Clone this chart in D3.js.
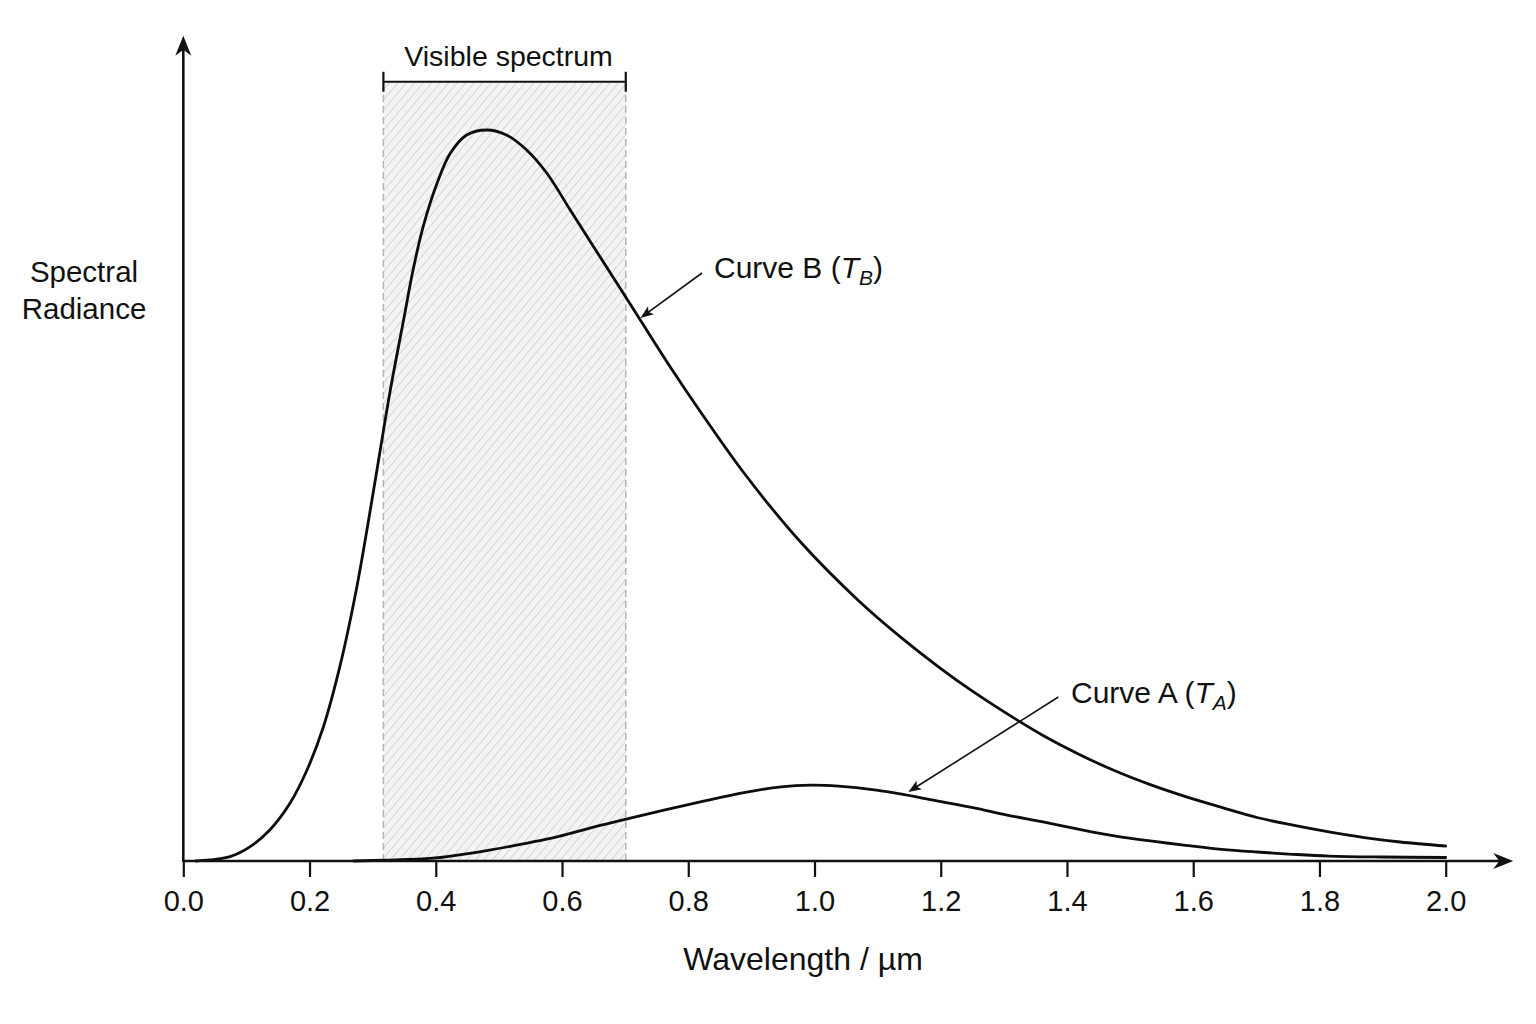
<!DOCTYPE html>
<html><head><meta charset="utf-8">
<script src="https://cdn.jsdelivr.net/npm/d3@7"></script>
<style>html,body{margin:0;padding:0;background:#fff}svg{display:block}</style>
</head><body><svg id="chart" width="1536" height="1024"></svg>
<script>
// ---- data ----
const wavelengthTicks = [0.0, 0.2, 0.4, 0.6, 0.8, 1.0, 1.2, 1.4, 1.6, 1.8, 2.0];

const curveBLambda = [0.02, 0.042, 0.074, 0.106, 0.137, 0.169, 0.196, 0.222, 0.248, 0.275, 0.301, 0.312, 0.328, 0.349, 0.364, 0.380, 0.402, 0.423, 0.449, 0.481, 0.512, 0.544, 0.576, 0.613, 0.650, 0.687, 0.724, 0.771, 0.819, 0.888, 0.979, 1.069, 1.136, 1.199, 1.249, 1.322, 1.362, 1.418, 1.475, 1.532, 1.588, 1.645, 1.701, 1.758, 1.815, 1.871, 1.928, 2.0];
const curveBValue  = [0, 0.14, 0.59, 1.96, 4.24, 7.89, 12.45, 18.37, 26.58, 37.52, 50.48, 56.22, 64.43, 74.01, 80.85, 86.77, 92.71, 96.81, 99.32, 100, 99.32, 97.26, 94.08, 89.06, 84.04, 79.03, 74.01, 67.66, 61.50, 53.11, 43.53, 35.68, 30.66, 26.39, 23.30, 19.23, 17.18, 14.65, 12.37, 10.44, 8.80, 7.33, 5.95, 4.90, 3.98, 3.20, 2.60, 2.05];

const curveALambda = [0.27, 0.317, 0.395, 0.462, 0.522, 0.595, 0.644, 0.700, 0.765, 0.826, 0.886, 0.947, 0.995, 1.038, 1.098, 1.136, 1.192, 1.249, 1.305, 1.362, 1.418, 1.475, 1.532, 1.588, 1.645, 1.701, 1.758, 1.815, 1.899, 2.0];
const curveAValue  = [0, 0.11, 0.38, 1.16, 2.08, 3.38, 4.51, 5.68, 7.02, 8.21, 9.32, 10.15, 10.37, 10.23, 9.69, 9.17, 8.25, 7.33, 6.29, 5.34, 4.35, 3.43, 2.74, 2.15, 1.60, 1.23, 0.92, 0.68, 0.55, 0.48];

const visibleBand = [0.317, 0.701];
const visibleLabel = "Visible spectrum";

const annotationNames = ["Curve B (", "Curve A ("];
const annotationSubs  = ["B", "A"];
const annotationTip   = [[0.7243, 74.28], [1.1486, 9.44]];
const annotationTail  = [[0.8218, 80.44], [1.3863, 22.43]];
const annotationText  = [[0.8408, 79.75], [1.4064, 21.55]];

const xTitle = "Wavelength / µm";
const yTitleLines = ["Spectral", "Radiance"];

// ---- layout ----
const FONT = "'Liberation Sans', Arial, Helvetica, sans-serif";
const svg = d3.select("#chart");
const x = d3.scaleLinear().domain([0, 2]).range([183.3, 1445.7]);
const y = d3.scaleLinear().domain([0, 100]).range([861, 130]);
const xAxisEnd = 2.107, yAxisTop = 112.9, bracketV = 106.6;

// hatch pattern
const defs = svg.append("defs");
const pat = defs.append("pattern").attr("id", "hatch")
  .attr("patternUnits", "userSpaceOnUse").attr("width", 6.5).attr("height", 6.5)
  .attr("patternTransform", "rotate(40)");
pat.append("rect").attr("width", 6.5).attr("height", 6.5).attr("fill", "#f4f4f4");
pat.append("line").attr("x1", 0).attr("y1", 0).attr("x2", 0).attr("y2", 6.5)
  .attr("stroke", "#cbcbcb").attr("stroke-width", 1.5);

// visible band
svg.append("rect")
  .attr("x", x(visibleBand[0])).attr("y", y(bracketV))
  .attr("width", x(visibleBand[1]) - x(visibleBand[0]))
  .attr("height", y(0) - y(bracketV))
  .attr("fill", "url(#hatch)");
visibleBand.forEach(v => {
  svg.append("line").attr("x1", x(v)).attr("x2", x(v))
    .attr("y1", y(0)).attr("y2", y(bracketV))
    .attr("stroke", "#b4b4b4").attr("stroke-width", 1.5).attr("stroke-dasharray", "7,4");
});
// bracket
svg.append("line").attr("x1", x(visibleBand[0])).attr("x2", x(visibleBand[1]))
  .attr("y1", y(bracketV)).attr("y2", y(bracketV)).attr("stroke", "#111").attr("stroke-width", 2.2);
visibleBand.forEach(v => {
  svg.append("line").attr("x1", x(v)).attr("x2", x(v))
    .attr("y1", y(bracketV) - 10).attr("y2", y(bracketV) + 10)
    .attr("stroke", "#111").attr("stroke-width", 2.2);
});
svg.append("text").attr("x", (x(visibleBand[0]) + x(visibleBand[1])) / 2 + 4)
  .attr("y", y(bracketV) - 16).attr("text-anchor", "middle")
  .attr("font-family", FONT).attr("font-size", 28.5).attr("fill", "#111").text(visibleLabel);

// curves
const line = d3.line().x(d => x(d[0])).y(d => y(d[1])).curve(d3.curveCatmullRom.alpha(0.5));
const dataB = curveBLambda.map((l, i) => [l, curveBValue[i]]);
const dataA = curveALambda.map((l, i) => [l, curveAValue[i]]);
[dataA, dataB].forEach(d => {
  svg.append("path").datum(d).attr("d", line)
    .attr("fill", "none").attr("stroke", "#0d0d0d").attr("stroke-width", 2.8)
    .attr("stroke-linejoin", "round").attr("stroke-linecap", "round");
});

// x axis with ticks
const xAxis = d3.axisBottom(x).tickValues(wavelengthTicks)
  .tickFormat(d3.format(".1f")).tickSize(16).tickPadding(13);
const gx = svg.append("g").attr("transform", `translate(0,${y(0)})`).call(xAxis);
gx.select(".domain").remove();
gx.selectAll(".tick line").attr("stroke", "#111").attr("stroke-width", 2.2);
gx.selectAll(".tick text").attr("font-family", FONT).attr("font-size", 29).attr("fill", "#111");

// axis lines with arrowheads
svg.append("line").attr("x1", x(0)).attr("x2", x(xAxisEnd) - 6)
  .attr("y1", y(0)).attr("y2", y(0)).attr("stroke", "#111").attr("stroke-width", 2.6);
svg.append("line").attr("x1", x(0)).attr("x2", x(0))
  .attr("y1", y(0) + 1).attr("y2", y(yAxisTop) + 6).attr("stroke", "#111").attr("stroke-width", 2.6);
function arrowHead(tx, ty, ang, len, hw, notch) {
  const c = Math.cos(ang), s = Math.sin(ang);
  const p = (a, b) => [tx + a * c - b * s, ty + a * s + b * c];
  const pts = [p(0, 0), p(-len, -hw), p(-len + notch, 0), p(-len, hw)];
  return "M" + pts.map(q => q.join(",")).join("L") + "Z";
}
svg.append("path").attr("d", arrowHead(x(xAxisEnd), y(0), 0, 20, 8, 6)).attr("fill", "#111");
svg.append("path").attr("d", arrowHead(x(0), y(yAxisTop), -Math.PI / 2, 20, 8, 6)).attr("fill", "#111");

// axis titles
svg.append("text").attr("x", 803).attr("y", 970).attr("text-anchor", "middle")
  .attr("font-family", FONT).attr("font-size", 32).attr("fill", "#111").text(xTitle);
yTitleLines.forEach((t, i) => {
  svg.append("text").attr("x", 84).attr("y", 282 + i * 36.5).attr("text-anchor", "middle")
    .attr("font-family", FONT).attr("font-size", 29.5).attr("fill", "#111").text(t);
});

// annotations
annotationNames.forEach((name, i) => {
  const tip = annotationTip[i], tail = annotationTail[i], tp = annotationText[i];
  const x1 = x(tail[0]), y1 = y(tail[1]), x2 = x(tip[0]), y2 = y(tip[1]);
  const ang = Math.atan2(y2 - y1, x2 - x1);
  svg.append("line").attr("x1", x1).attr("y1", y1)
    .attr("x2", x2 - 6 * Math.cos(ang)).attr("y2", y2 - 6 * Math.sin(ang))
    .attr("stroke", "#111").attr("stroke-width", 1.6);
  svg.append("path").attr("d", arrowHead(x2, y2, ang, 13, 5, 3)).attr("fill", "#111");
  const t = svg.append("text").attr("x", x(tp[0])).attr("y", y(tp[1]))
    .attr("font-family", FONT).attr("font-size", 30).attr("fill", "#111");
  t.append("tspan").text(name);
  t.append("tspan").attr("font-style", "italic").text("T");
  t.append("tspan").attr("font-style", "italic").attr("font-size", 21).attr("dy", 7).text(annotationSubs[i]);
  t.append("tspan").attr("dy", -7).text(")");
});
</script>
</body></html>
